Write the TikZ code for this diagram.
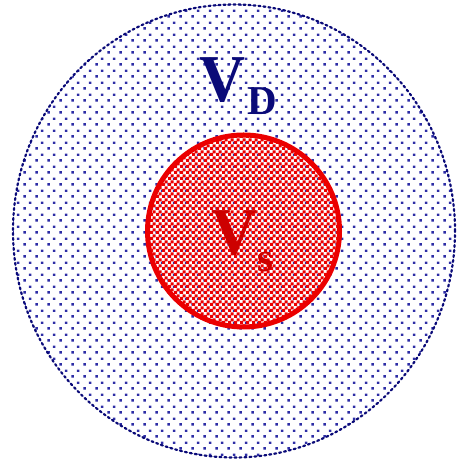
\documentclass[tikz,border=0pt]{standalone}
\usepackage{fontspec}
\setmainfont{Liberation Serif}
\usepackage{xcolor}
\usetikzlibrary{patterns.meta,positioning}

\definecolor{domainblue}{RGB}{10,10,120}
\definecolor{dotblue}{RGB}{45,45,165}
\definecolor{sourcered}{RGB}{235,0,0}
\definecolor{labelred}{RGB}{205,0,0}

\tikzdeclarepattern{
  name=bluedots, type=uncolored,
  bottom left={(0pt,0pt)}, top right={(11.5pt,11.5pt)},
  tile size={(11.5pt,11.5pt)},
  code={
    \fill (0.5pt,0.5pt) rectangle (3pt,3pt);
    \fill (6.25pt,6.25pt) rectangle (8.75pt,8.75pt);
  }
}
\tikzdeclarepattern{
  name=redchecks, type=uncolored,
  bottom left={(0pt,0pt)}, top right={(6pt,6pt)},
  tile size={(6pt,6pt)},
  code={
    \fill (0pt,0pt) rectangle (3.6pt,3.6pt);
    \fill (3pt,3pt) rectangle (6.6pt,6.6pt);
  }
}

\begin{document}
\begin{tikzpicture}[
    x=1pt, y=1pt,
    outerregion/.style={draw=domainblue, line width=2.2pt, dash pattern=on 2pt off 3pt, line cap=round,
                   pattern={bluedots}, pattern color=dotblue},
    innerregion/.style={draw=sourcered, line width=5pt, pattern={redchecks}, pattern color=sourcered},
    bigletter/.style={inner sep=0pt, font=\fontsize{67}{67}\selectfont\bfseries},
    subletter/.style={inner sep=0pt, font=\fontsize{41}{41}\selectfont\bfseries}
]
    \useasboundingbox (0,0) rectangle (456,462);

    % outer domain and inner source region
    \coordinate (dcenter) at (234,231);
    \coordinate (scenter) at (243.5,231);
    \draw[outerregion] (dcenter) ellipse [x radius=221, y radius=226.5];
    \draw[innerregion] (scenter) circle [radius=96];

    % labels
    \node[bigletter, text=domainblue] (vd) at (222,382) {\scalebox{0.95}[1]{V}};
    \node[subletter, text=domainblue] (vdsub) at (262.5,360.5) {D};
    \node[bigletter, text=labelred] (vs) at (234,228.5) {\scalebox{0.95}[1]{V}};
    \node[subletter, text=labelred] (vssub) at (265.5,199.5) {s};
\end{tikzpicture}
\end{document}
